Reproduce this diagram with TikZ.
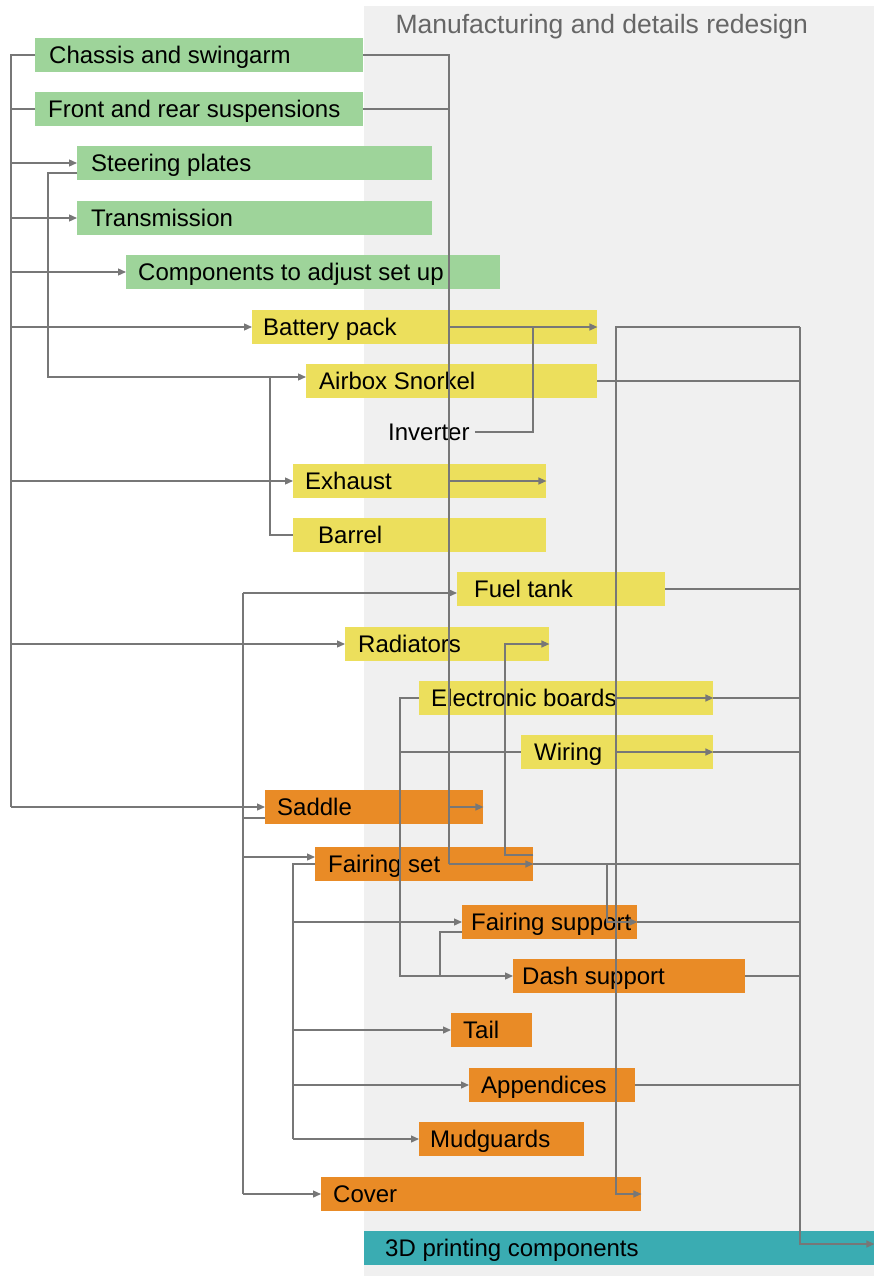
\documentclass[tikz,border=0pt]{standalone}
\usepackage{fontspec}
\setmainfont{Liberation Sans}
\usepackage{tikz}
\usetikzlibrary{arrows.meta, calc}

\definecolor{boxgreen}{HTML}{9ED49A}
\definecolor{boxyellow}{HTML}{ECDF5C}
\definecolor{boxorange}{HTML}{E98B26}
\definecolor{boxteal}{HTML}{3AACB2}
\definecolor{bggray}{HTML}{F0F0F0}
\definecolor{linegray}{HTML}{777777}
\definecolor{titlegray}{HTML}{666666}

\begin{document}
\begin{tikzpicture}[x=1pt, y=-1pt,
    bar/.style={rectangle, anchor=west, minimum height=34pt,
        text height=19.5pt, text depth=3pt, font=\fontsize{24}{28}\selectfont},
    link/.style={draw=linegray, line width=1.3pt},
    arr/.style={link, -{Triangle[length=8pt, width=7pt]}}]
    \useasboundingbox (0,0) rectangle (874,1276);
    \fill[bggray] (364,6) rectangle (874,1276);
    \node[anchor=west, text=titlegray, font=\fontsize{26.5}{30}\selectfont] (title) at (392,27) {Manufacturing and details redesign};

    % boxes: name/x/y/width/padding/text
    \foreach \n/\x/\y/\w/\p/\txt in {chassis/35/55/328/14/Chassis and swingarm,
        front/35/109/328/13/Front and rear suspensions, steer/77/163/355/14/Steering plates,
        trans/77/218/355/14/Transmission, comp/126/272/374/12/Components to adjust set up} {
        \pgfmathsetmacro\tw{\w-2*\p}
        \node[bar, fill=boxgreen, inner xsep=\p pt] (\n) at (\x,\y) {\makebox[\tw pt][l]{\txt}};
    }
    \foreach \n/\x/\y/\w/\p/\txt in {battery/252/327/345/11/Battery pack,
        airbox/306/381/291/13/Airbox Snorkel, exhaust/293/481/253/12/Exhaust,
        barrel/293/535/253/25/Barrel, fuel/457/589/208/17/Fuel tank,
        radiators/345/644/204/13/Radiators, eboards/419/698/294/12/Electronic boards,
        wiring/521/752/192/13/Wiring} {
        \pgfmathsetmacro\tw{\w-2*\p}
        \node[bar, fill=boxyellow, inner xsep=\p pt] (\n) at (\x,\y) {\makebox[\tw pt][l]{\txt}};
    }
    \foreach \n/\x/\y/\w/\p/\txt in {saddle/265/807/218/12/Saddle,
        fairing/315/864/218/13/Fairing set, fsupport/462/922/175/9/Fairing support,
        dash/513/976/232/9/Dash support, tail/451/1030/81/12/Tail,
        append/469/1085/166/12/Appendices, mudguards/419/1139/165/11/Mudguards,
        cover/321/1194/320/12/Cover} {
        \pgfmathsetmacro\tw{\w-2*\p}
        \node[bar, fill=boxorange, inner xsep=\p pt] (\n) at (\x,\y) {\makebox[\tw pt][l]{\txt}};
    }
    \node[bar, fill=boxteal, inner xsep=21pt] (print) at (364,1248) {\makebox[468pt][l]{3D printing components}};
    \node[anchor=west, inner xsep=5pt, font=\fontsize{24}{28}\selectfont] (inverter) at (383,432) {Inverter};

    % bus columns
    \foreach \b/\x in {busL/11, busA/48, busG/243, busB/270, busH/293, busE/400,
        busS/440, busM/449, busF/505, busI/533, busT/607, busC/616, busR/800}
        \coordinate (\b) at (\x,0);
    \coordinate (steerout) at ($(steer.west)+(0,10)$);
    \coordinate (airin) at ($(airbox.west)+(0,-4)$);
    \coordinate (fairup) at ($(fairing.east)+(0,-9)$);
    \coordinate (fsout) at ($(fsupport.west)+(0,10)$);
    \coordinate (fuelin) at ($(fuel.west)+(0,4)$);
    \coordinate (saddleout) at ($(saddle.west)+(0,11)$);
    \coordinate (fairin) at ($(fairing.west)+(0,-7)$);
    \coordinate (printin) at ($(print.east)+(0,-4)$);

    % left side
    \draw[link] (chassis.west) -- (chassis.west -| busL) -- (busL |- saddle.west);
    \draw[link] (front.west) -- (front.west -| busL);
    \foreach \n in {steer, trans, comp, battery, exhaust, radiators, saddle}
        \draw[arr] (\n.west -| busL) -- (\n.west);
    \draw[arr] (steerout) -- (steerout -| busA) |- (airin);
    \draw[link] (airin -| busB) |- (barrel.west);

    % middle
    \draw[link] (chassis.east) -| (busM |- fairing.east);
    \draw[link] (front.east) -- (front.east -| busM);
    \foreach \n in {battery, exhaust, saddle, fairing}
        \draw[arr] (\n.east -| busM) -- (\n.east);
    \draw[link] (inverter.east) -| (busI |- battery.east);
    \draw[arr] (fairup) -| (busF |- radiators.east) -- (radiators.east);
    \draw[arr] (fairing.east -| busT) |- (fsupport.east);

    % right side
    \draw[arr] (battery.east -| busR) -| (busC |- cover.east) -- (cover.east);
    \draw[arr] (battery.east -| busR) |- (printin);
    \foreach \n in {airbox, fuel, eboards, wiring, fairing, fsupport, dash, append}
        \draw[link] (\n.east) -- (\n.east -| busR);
    \foreach \n in {eboards, wiring}
        \draw[arr] (\n.east -| busC) -- (\n.east);

    % electronics
    \draw[arr] (eboards.west) -| (busE |- dash.west) -- (dash.west);
    \draw[link] (wiring.west -| busE) -- (wiring.west);
    \draw[link] (fsout) -| (busS |- dash.west);

    % lower left
    \draw[link] (fuelin -| busG) -- (cover.west -| busG);
    \draw[link] (saddleout -| busG) -- (saddleout);
    \foreach \c in {fuelin, fairin, cover.west}
        \draw[arr] (\c -| busG) -- (\c);
    \draw[link] (fairing.west) -| (busH |- mudguards.west);
    \foreach \n in {fsupport, tail, append, mudguards}
        \draw[arr] (\n.west -| busH) -- (\n.west);
\end{tikzpicture}
\end{document}
